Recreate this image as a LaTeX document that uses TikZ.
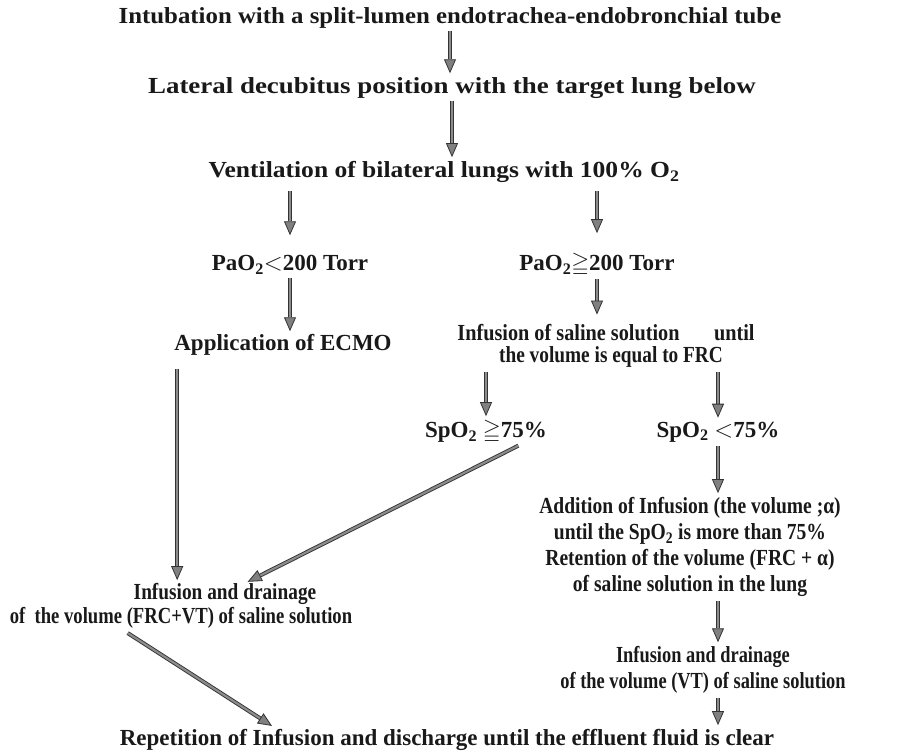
\documentclass[tikz,border=0pt]{standalone}
\usepackage{fontspec}
\setmainfont{Liberation Serif}
\usepackage{amssymb}
\usetikzlibrary{arrows.meta}
\begin{document}
\begin{tikzpicture}[x=1pt,y=-1pt,
  txt/.style={inner sep=0pt, font=\fontsize{23}{26}\selectfont\bfseries, align=center, text=black!90},
  fs/.style={font=\fontsize{23}{26}\selectfont\bfseries\addfontfeature{FakeStretch=#1}},
  arr/.style={draw=black!80, line width=0.9pt, double=black!45, double distance=2.2pt,
    -{Triangle[width=12pt,length=14pt,fill=black!50,color=black!80,line width=0.8pt]}}]
\useasboundingbox (0,0) rectangle (897,751);
\node[txt, fs=1.08] (t1) at (450,18) {Intubation with a split-lumen endotrachea-endobronchial tube};
\node[txt, fs=1.17] (t2) at (452,88) {Lateral decubitus position with the target lung below};
\node[txt, fs=1.11] (t3) at (444,172) {Ventilation of bilateral lungs with 100\% O\textsubscript{2}};
\node[txt] (pl) at (290,265) {PaO\textsubscript{2}$<$200 Torr};
\node[txt] (ph) at (597,265) {PaO\textsubscript{2}$\geqq$200 Torr};
\node[txt] (ecmo) at (283,345) {Application of ECMO};
\node[txt, fs=0.88] (inf1) at (606,333) {Infusion of saline solution\hspace{1.5em}until};
\node[txt, fs=0.84] (inf2) at (611,357) {the volume is equal to FRC};
\node[txt] (s1) at (486,432) {SpO\textsubscript{2} $\geqq$75\%};
\node[txt] (s2) at (718,432) {SpO\textsubscript{2} $<$75\%};
\node[txt, fs=0.85] (add) at (690,547) {Addition of Infusion (the volume ;α)\\until the SpO\textsubscript{2} is more than 75\%\\Retention of the volume (FRC + α)\\of saline solution in the lung};
\node[txt, fs=0.84] (ld1) at (225,594) {Infusion and drainage};
\node[txt, fs=0.81] (ld2) at (181,618) {of\ \ the volume (FRC+VT) of saline solution};
\node[txt, fs=0.80] (rd) at (703,670) {Infusion and drainage\\of the volume (VT) of saline solution};
\node[txt] (rep) at (447,740) {Repetition of Infusion and discharge until the effluent fluid is clear};

\draw[arr, shorten <=2pt, shorten >=4pt] (t1.south) -- (t1.south |- t2.north);
\draw[arr, shorten <=2pt, shorten >=4pt] (t2.south) -- (t2.south |- t3.north);
\draw[arr, shorten <=8pt, shorten >=20pt] (t3.south -| pl.north) -- (pl.north);
\draw[arr, shorten <=8pt, shorten >=20pt] (t3.south -| ph.north) -- (ph.north);
\draw[arr, shorten <=3pt, shorten >=3pt] (pl.south) -- (pl.south |- ecmo.north);
\draw[arr, shorten <=2pt, shorten >=10pt] (ph.south) -- (ph.south |- inf1.north);
\draw[arr, shorten <=13pt, shorten >=3pt] ([xshift=3pt]ecmo.south west) -- ([xshift=3pt]ecmo.south west |- ld1.north);
\draw[arr, shorten <=4pt, shorten >=4pt] (inf2.south -| s1.north) -- (s1.north);
\draw[arr, shorten <=4pt, shorten >=4pt] (inf2.south -| s2.north) -- (s2.north);
\draw[arr, shorten <=4pt, shorten >=3pt] ([xshift=36pt]s1.south) -- ([xshift=20pt]ld1.north);
\draw[arr, shorten <=4pt, shorten >=4pt] (s2.south) -- (s2.south |- add.north);
\draw[arr, shorten <=4pt, shorten >=4pt] (add.south -| s2.south) -- (rd.north -| s2.south);
\draw[arr, shorten <=4pt, shorten >=4pt] (rd.south -| s2.south) -- (rep.north -| s2.south);
\draw[arr, shorten <=8pt, shorten >=6pt] ([xshift=-60pt]ld2.south) -- ([xshift=-170pt]rep.north);
\end{tikzpicture}
\end{document}
